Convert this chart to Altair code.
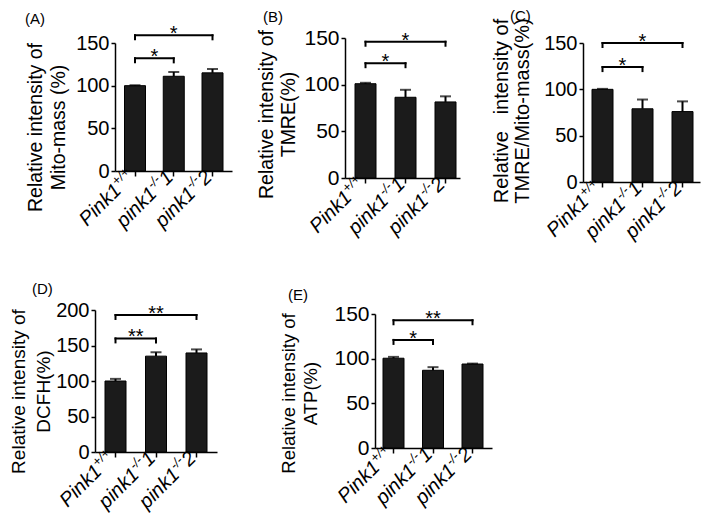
import altair as alt
import pandas as pd

# ---------------- data ----------------
categories = ["Pink1+/+", "pink1-/-1", "pink1-/-2"]
label_main = ["Pink1", "pink1", "pink1"]
label_sup = ["+/+", "-/-", "-/-"]
label_tail = ["", "1", "2"]

panel_letters = ["(A)", "(B)", "(C)", "(D)", "(E)"]
NB = "\u00a0"
ytitle_1 = ["Relative intensity of", "Relative intensity of",
            "Relative" + NB + NB + " intensity of",
            "Relative intensity of", "Relative intensity of"]
ytitle_2 = ["Mito-mass (%)", "TMRE(%)", "TMRE/Mito-mass(%)", "DCFH(%)", "ATP(%)"]

means_A = [100, 111, 115]
err_A = [0.5, 5, 4.5]
means_B = [101, 86.5, 81.5]
err_B = [1, 8, 6]
means_C = [100, 79, 76]
err_C = [0.5, 10, 11]
means_D = [100, 135, 139.5]
err_D = [3, 5.5, 5]
means_E = [100.5, 87, 94]
err_E = [1.5, 3.5, 0.5]

y_max = [150, 150, 150, 200, 150]

# significance brackets: (from index, to index, level, label)
brackets_A = [(0, 1, 132, "*"), (0, 2, 159, "*")]
brackets_B = [(0, 1, 123, "*"), (0, 2, 146, "*")]
brackets_C = [(0, 1, 124, "*"), (0, 2, 150, "*")]
brackets_D = [(0, 1, 160, "**"), (0, 2, 193, "**")]
brackets_E = [(0, 1, 121, "*"), (0, 2, 143, "**")]

# ---------------- layout (page pixels) ----------------
FONT = "Liberation Sans"
BW = 21
PAGE0 = (8, 8)
ROW_TOP = [38, 38, 38, 310, 310]
ORIGIN_X = [95, 345, 583, 95, 345]
PANEL_W = [250, 238, 117, 250, 238]
AXIS_X = [115, 345, 583, 95, 375]
AXIS_END = [232, 460, 700, 217, 492]
BAR_L = [124.5, 355, 592, 105, 383]
BAR_R = [223, 456, 693, 207, 483]
PLOT_TOP = [43, 38, 43, 310, 314]
PLOT_BOT = [171, 178, 182, 452, 448]
TITLE_X = [-89, -88, -92, -86, -96]
TITLE_CY = [127, 114, 110.5, 391, 393]
TITLE_FS = [19.5, 19.5, 20, 19, 18.5]
TITLE_LH = [23, 22, 21, 25, 22]
TICK_FS = [20, 21, 20, 20, 21]
LETTER_POS = [(25, 12), (263, 10), (510, 9), (32, 282), (288, 288)]

FS_MAIN = 20
FS_SUP = 13
SUP_RAISE = 8
LBL_DX = 1
LBL_DY = 8

ADV = {"P": 667, "i": 222, "n": 556, "k": 500, "1": 556, "p": 556, "2": 556,
       "+": 584, "/": 278, "-": 333}


def text_w(s, fs):
    return sum(ADV.get(c, 556) for c in s) / 1000.0 * fs


def make_panel(k, means, errs, brackets):
    ymax = y_max[k]
    ox, oy = ORIGIN_X[k], ROW_TOP[k]
    H = PLOT_BOT[k] - oy
    ytop = PLOT_TOP[k] - oy
    a = AXIS_X[k] - ox
    L = AXIS_END[k] - AXIS_X[k]
    span = BAR_R[k] - BAR_L[k]
    step = (span - BW) / 2.0
    p_in = 1 - BW / step
    p_out = (L / step - (3 - p_in)) / 2.0
    align = (BAR_L[k] - AXIS_X[k]) / (L - span)

    xs = alt.Scale(domain=categories, range=[a, a + L], paddingInner=p_in,
                   paddingOuter=p_out, align=align)
    ys = alt.Scale(domain=[0, ymax], range=[H, ytop], nice=False, zero=True)

    xaxis = alt.Axis(labels=False, title=None, ticks=True, tickSize=5, tickWidth=1.5,
                     tickColor="black", domainColor="black", domainWidth=1.5, grid=False)
    yaxis = alt.Axis(values=list(range(0, ymax + 1, 50)),
                     title=[ytitle_1[k], ytitle_2[k]],
                     titleFont=FONT, titleFontSize=TITLE_FS[k], titleFontWeight="normal",
                     titleColor="black", titleAngle=270, titleAlign="center",
                     titleBaseline="top", titleX=TITLE_X[k], titleY=TITLE_CY[k] - oy,
                     titleLineHeight=TITLE_LH[k],
                     labelFont=FONT, labelFontSize=TICK_FS[k], labelColor="black",
                     labelPadding=2, labelFlush=False,
                     tickSize=4, tickWidth=1.5, tickColor="black",
                     domainColor="black", domainWidth=1.5, grid=False, offset=-a)

    def X(field):
        return alt.X(field, type="nominal", scale=xs, sort=categories, axis=xaxis)

    def Y(field):
        return alt.Y(field, type="quantitative", scale=ys, axis=yaxis)

    df = pd.DataFrame({"cat": categories, "mean": means,
                       "top": [m + e for m, e in zip(means, errs)]})
    base = alt.Chart(df)
    bars = base.mark_bar(fill="#1b1b1b", stroke="black", strokeWidth=1).encode(
        x=X("cat"), y=Y("mean"))
    err = base.mark_rule(color="black", strokeWidth=2).encode(
        x=X("cat"), y=Y("mean"), y2="top:Q")
    cap = base.mark_tick(color="black", thickness=2, size=11, orient="horizontal").encode(
        x=X("cat"), y=Y("top"))

    bdf = pd.DataFrame({"c1": [categories[b[0]] for b in brackets],
                        "c2": [categories[b[1]] for b in brackets],
                        "level": [b[2] for b in brackets]})
    hline = alt.Chart(bdf).mark_rule(color="black", strokeWidth=2, strokeCap="square").encode(
        x=X("c1"), x2="c2:N", y=Y("level"))
    edf = pd.DataFrame({"cat": [categories[b[0]] for b in brackets] + [categories[b[1]] for b in brackets],
                        "level": [b[2] for b in brackets] * 2})
    ends = alt.Chart(edf).mark_rule(color="black", strokeWidth=2, strokeCap="square",
                                    y2Offset=4).encode(
        x=X("cat"), y=Y("level"), y2="level:Q")

    layers = [bars, err, cap, hline, ends]
    for (i, j, lev, s) in brackets:
        sdf = pd.DataFrame({"cat": [categories[i]], "level": [lev], "s": [s]})
        layers.append(alt.Chart(sdf).mark_text(
            dx=(j - i) * step / 2.0, dy=5, fontSize=20, font=FONT, color="black",
            align="center", baseline="alphabetic").encode(
            x=X("cat"), y=Y("level"), text="s:N"))

    for i in range(3):
        wt = text_w(label_tail[i], FS_MAIN)
        ws = text_w(label_sup[i], FS_SUP)
        parts = [(label_main[i], FS_MAIN, -(wt + ws), 0),
                 (label_sup[i], FS_SUP, -wt, -SUP_RAISE),
                 (label_tail[i], FS_MAIN, 0, 0)]
        for text, fs, dx, dy in parts:
            if not text:
                continue
            ldf = pd.DataFrame({"cat": [categories[i]], "t": [text]})
            layers.append(alt.Chart(ldf).mark_text(
                angle=315, align="right", baseline="alphabetic", font=FONT,
                fontStyle="italic", fontSize=fs, dx=dx + LBL_DX, dy=dy, color="black").encode(
                x=X("cat"), y=alt.value(H + LBL_DY), text="t:N"))

    lx, ly = LETTER_POS[k]
    layers.append(alt.Chart(pd.DataFrame({"t": [panel_letters[k]]})).mark_text(
        align="left", baseline="top", fontSize=15, font=FONT, color="black").encode(
        x=alt.value(lx - ox), y=alt.value(ly - oy), text="t:N"))

    return alt.layer(*layers).properties(width=PANEL_W[k], height=H)


panels = [make_panel(0, means_A, err_A, brackets_A),
          make_panel(1, means_B, err_B, brackets_B),
          make_panel(2, means_C, err_C, brackets_C),
          make_panel(3, means_D, err_D, brackets_D),
          make_panel(4, means_E, err_E, brackets_E)]

row1_h = max(PLOT_BOT[k] - ROW_TOP[k] for k in range(3))
row_gap = ROW_TOP[3] - ROW_TOP[0] - row1_h

SVG_W, SVG_H = 693, 507
pad_left = ORIGIN_X[0] - PAGE0[0]
pad_top = ROW_TOP[0] - PAGE0[1]

chart = alt.concat(*panels, columns=3,
                   spacing={"row": row_gap, "column": 0},
                   bounds="flush", align="each").properties(
    autosize=alt.AutoSizeParams(type="none"),
    padding={"left": pad_left, "top": pad_top,
             "right": SVG_W - pad_left, "bottom": SVG_H - pad_top},
    background="white").configure_view(stroke=None)

chart.save("out.html", embed_options={"renderer": "svg", "actions": False})
